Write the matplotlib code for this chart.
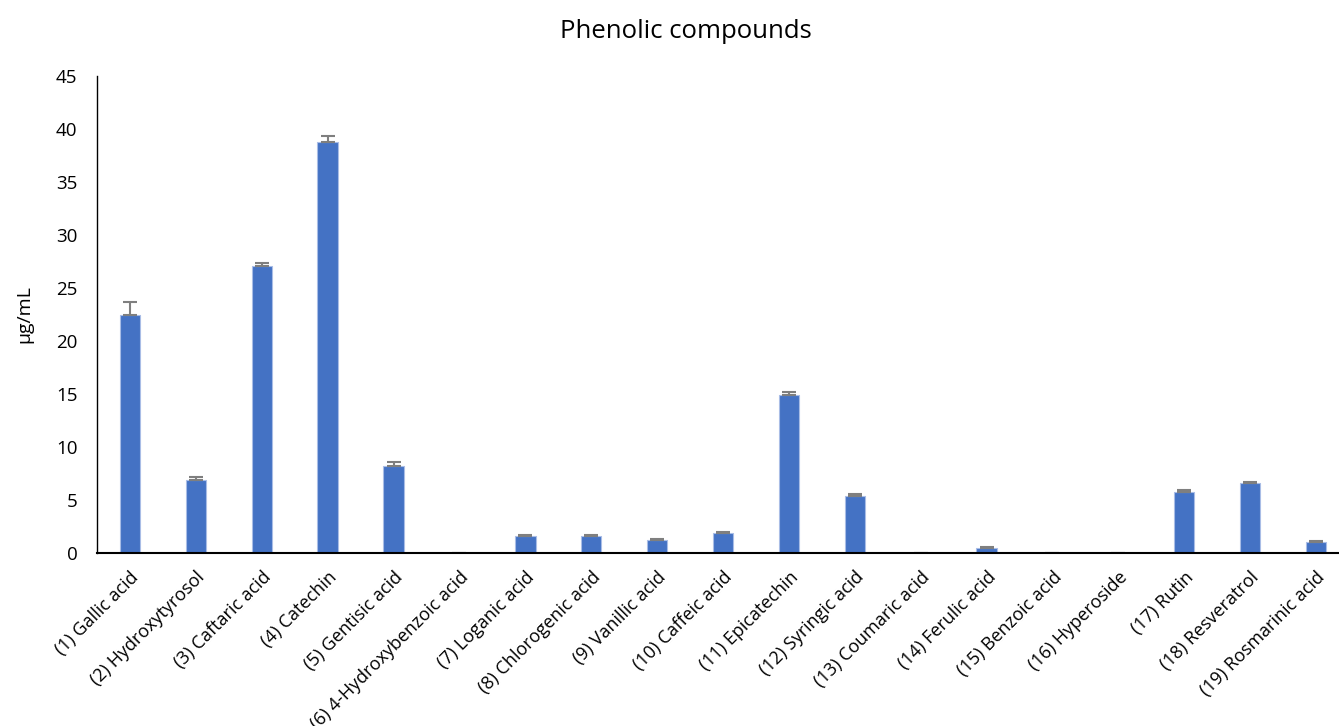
import numpy as np
import matplotlib.pyplot as plt

plt.rcParams['font.family'] = ['Open Sans', 'DejaVu Sans']

compounds = ["(1) Gallic acid", "(2) Hydroxytyrosol", "(3) Caftaric acid", "(4) Catechin",
             "(5) Gentisic acid", "(6) 4-Hydroxybenzoic acid", "(7) Loganic acid",
             "(8) Chlorogenic acid", "(9) Vanillic acid", "(10) Caffeic acid",
             "(11) Epicatechin", "(12) Syringic acid", "(13) Coumaric acid",
             "(14) Ferulic acid", "(15) Benzoic acid", "(16) Hyperoside", "(17) Rutin",
             "(18) Resveratrol", "(19) Rosmarinic acid"]
means = [22.45, 6.9, 27.1, 38.8, 8.2, 0, 1.6, 1.6, 1.25, 1.85,
         14.9, 5.4, 0, 0.5, 0, 0, 5.75, 6.6, 1.05]
sd = [1.2, 0.3, 0.3, 0.55, 0.4, 0, 0.1, 0.1, 0.1, 0.1,
      0.25, 0.2, 0, 0.1, 0, 0, 0.15, 0.1, 0.08]

fig = plt.figure(figsize=(13.39, 7.26), dpi=100)
ax = fig.add_axes([97 / 1339, 1 - 553 / 726, 1252 / 1339, (553 - 76) / 726])

x = np.arange(len(compounds))
# only the upper half of the error bar is shown
ax.bar(x, means, width=0.31, color="#4472C4", edgecolor="#A9BDE6", linewidth=0.8,
       yerr=[np.zeros(len(sd)), sd],
       error_kw=dict(ecolor="#7F7F7F", elinewidth=1.5, capsize=5, capthick=1.5))

ax.set_xlim(-0.5, len(compounds) - 0.5)
ax.set_ylim(0, 45)
ax.set_yticks(np.arange(0, 46, 5))
ax.set_xticks(x)
ax.set_xticklabels(compounds, rotation=45, ha="right", rotation_mode="anchor", fontsize=13)
ax.tick_params(axis="y", labelsize=13.5, length=0, pad=14)
ax.tick_params(axis="x", length=0, pad=11)
ax.set_ylabel("µg/mL", fontsize=14, labelpad=16)

for s in ["top", "right"]:
    ax.spines[s].set_visible(False)
ax.spines["bottom"].set_linewidth(1.5)
ax.spines["left"].set_linewidth(1.0)

fig.text(686 / 1339, 1 - 31 / 726, "Phenolic compounds", ha="center", va="center", fontsize=18.5)

fig.savefig("out.png", dpi=100)
